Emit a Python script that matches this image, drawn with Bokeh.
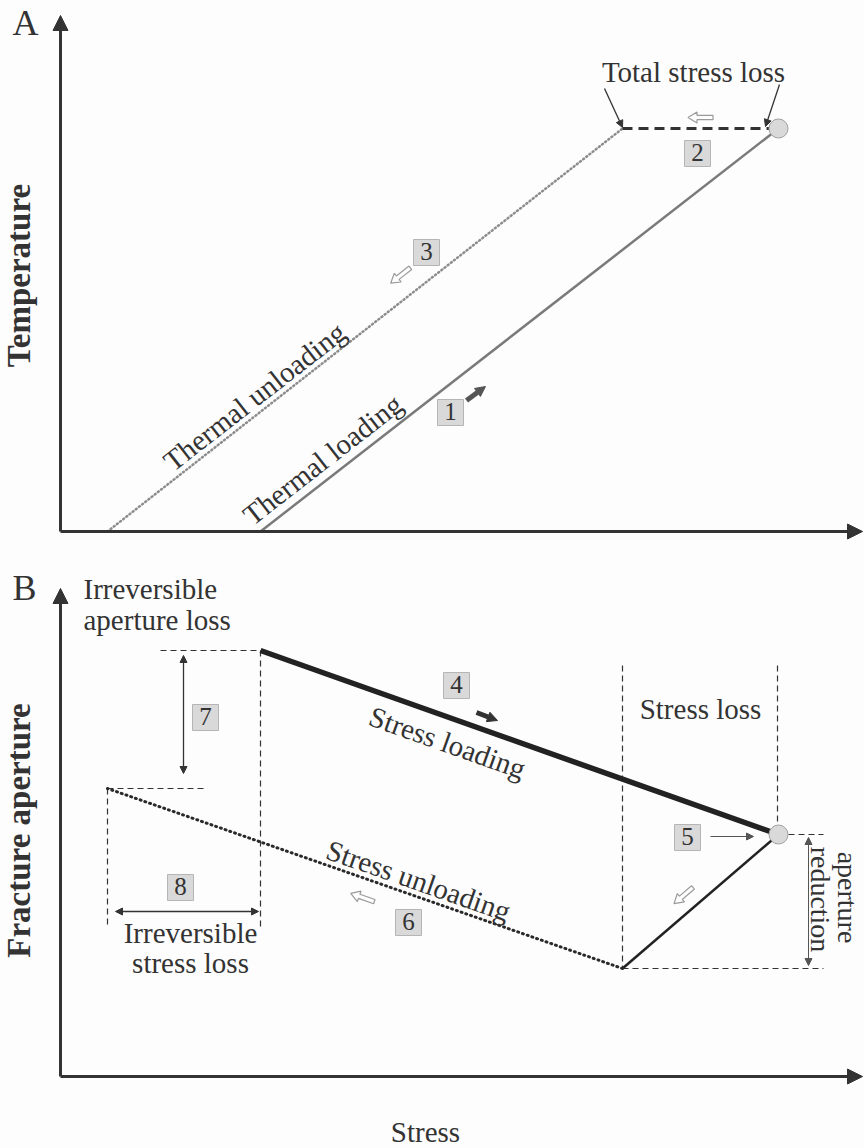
import math
from bokeh.plotting import figure
from bokeh.models import Range1d, Arrow, NormalHead, ColumnDataSource
from bokeh.layouts import column
from bokeh.core.properties import value
from bokeh.embed import file_html
from bokeh.resources import INLINE

# ---------------- data (arbitrary schematic units) ----------------
# Panel A: stress vs temperature
A_LOAD_STRESS = [200, 718]
A_LOAD_TEMP = [0, 403]
A_UNLOAD_STRESS = [47, 562]
A_UNLOAD_TEMP = [0, 403]
A_LOSS_STRESS = [562, 709]
A_LOSS_TEMP = [403, 403]
A_PEAK_STRESS = [718]
A_PEAK_TEMP = [403]

# Panel B: stress vs fracture aperture
B_LOAD_STRESS = [200, 718]
B_LOAD_APERT = [426, 242]
B_RELEASE_STRESS = [718, 562]
B_RELEASE_APERT = [242, 108]
B_UNLOAD_STRESS = [562, 47]
B_UNLOAD_APERT = [108, 288]
B_PEAK_STRESS = [718]
B_PEAK_APERT = [242]

SERIF = value("Liberation Serif")
INK = "#333333"
BG = "#fdfdfd"
BOXF = "#d9d9d9"
BOXL = "#b5b5b5"
FS = "29px"


def make_fig(h, y0, y1):
    p = figure(width=864, height=h, x_range=Range1d(-60, 804), y_range=Range1d(y0, y1),
               output_backend="svg", toolbar_location=None, x_axis_type=None, y_axis_type=None,
               min_border=0, background_fill_color=BG, border_fill_color=BG,
               outline_line_color=None)
    return p


def arrows(p, x0, y0, x1, y1, width, color, size, both=False):
    src = ColumnDataSource(dict(x0=x0, y0=y0, x1=x1, y1=y1))
    end = NormalHead(size=size, fill_color=color, line_color=color, line_width=1)
    start = NormalHead(size=size, fill_color=color, line_color=color, line_width=1) if both else None
    p.add_layout(Arrow(x_start="x0", y_start="y0", x_end="x1", y_end="y1", source=src,
                       start=start, end=end, line_color=color, line_width=width))


def txt(p, x, y, s, size=FS, angle=0.0, align="center", color=INK, style="normal"):
    p.text(x=[x], y=[y], text=[s], angle=angle, text_font=SERIF, text_font_size=size,
           text_align=align, text_baseline="middle", text_color=color, text_font_style=style)


def box(p, x, y, s):
    p.rect(x=[x], y=[y], width=26, height=26, fill_color=BOXF, line_color=BOXL, line_width=1)
    txt(p, x, y + 1, s, size="25px")


def hollow(p, cx, cy, ang, L=25.0, sw=2.2, hw=5.5, hl=9.0):
    shape = [(-L / 2, -sw), (L / 2 - hl, -sw), (L / 2 - hl, -hw), (L / 2, 0),
             (L / 2 - hl, hw), (L / 2 - hl, sw), (-L / 2, sw)]
    c, s = math.cos(ang), math.sin(ang)
    xs = [cx + u * c - v * s for u, v in shape]
    ys = [cy + u * s + v * c for u, v in shape]
    p.patch(xs, ys, fill_color=BG, line_color="#9a9a9a", line_width=1.2)


# ---------------- Panel A ----------------
pa = make_fig(560, -29, 531)
arrows(pa, [0, 0], [0, 0], [0, 802], [516, 0], 3, INK, 15)

pa.line(A_LOAD_STRESS, A_LOAD_TEMP, line_color="#7a7a7a", line_width=2.5)
pa.line(A_UNLOAD_STRESS, A_UNLOAD_TEMP, line_color="#8c8c8c", line_width=2.5,
        line_dash="1 3", line_cap="round")
pa.line(A_LOSS_STRESS, A_LOSS_TEMP, line_color=INK, line_width=3, line_dash="10 6")
pa.scatter(A_PEAK_STRESS, A_PEAK_TEMP, size=19, fill_color=BOXF, line_color="#a0a0a0")

ang_a = math.atan2(A_LOAD_TEMP[1] - A_LOAD_TEMP[0], A_LOAD_STRESS[1] - A_LOAD_STRESS[0])
txt(pa, -35, 509, "A", size="36px")
txt(pa, -42, 256, "Temperature", size="33px", angle=math.pi / 2, style="bold")
txt(pa, 633, 460, "Total stress loss")
arrows(pa, [544, 719], [443, 447], [562, 705], [404, 405], 1.3, INK, 7)
box(pa, 637, 378, "2")
box(pa, 366, 279, "3")
box(pa, 390, 119, "1")
arrows(pa, [406], [131], [425], [145], 5, "#555555", 10)
hollow(pa, 640, 414, math.pi)
hollow(pa, 340, 256, ang_a + math.pi)
txt(pa, 194, 135, "Thermal unloading", angle=ang_a)
txt(pa, 262, 72, "Thermal loading", angle=ang_a)

# ---------------- Panel B ----------------
pb = make_fig(588, -72, 516)
arrows(pb, [0, 0], [0, 0], [0, 802], [488, 0], 3, INK, 15)

guide = dict(line_color=INK, line_width=1.2, line_dash="6 4")
pb.line([100, 200], [426, 426], **guide)
pb.line([200, 200], [426, 149], **guide)
pb.line([47, 145], [288, 288], **guide)
pb.line([47, 47], [288, 149], **guide)
pb.line([562, 562], [411, 108], **guide)
pb.line([717, 717], [411, 251], **guide)
pb.line([728, 763], [242, 242], **guide)
pb.line([562, 763], [108, 108], **guide)

pb.line(B_LOAD_STRESS, B_LOAD_APERT, line_color="#222222", line_width=5.5)
pb.line(B_RELEASE_STRESS, B_RELEASE_APERT, line_color="#222222", line_width=2.5)
pb.line(B_UNLOAD_STRESS, B_UNLOAD_APERT, line_color="#2a2a2a", line_width=3,
        line_dash="1 4", line_cap="round")
pb.scatter(B_PEAK_STRESS, B_PEAK_APERT, size=19, fill_color=BOXF, line_color="#a0a0a0")

ang_load = math.atan2(B_LOAD_APERT[1] - B_LOAD_APERT[0], B_LOAD_STRESS[1] - B_LOAD_STRESS[0])
ang_unl = math.atan2(B_UNLOAD_APERT[1] - B_UNLOAD_APERT[0], B_UNLOAD_STRESS[1] - B_UNLOAD_STRESS[0])
ang_rel = math.atan2(B_RELEASE_APERT[1] - B_RELEASE_APERT[0], B_RELEASE_STRESS[1] - B_RELEASE_STRESS[0])

txt(pb, -36, 489, "B", size="36px")
txt(pb, -42, 246, "Fracture aperture", size="33px", angle=math.pi / 2, style="bold")
txt(pb, 365, -55, "Stress")
txt(pb, 23, 488, "Irreversible", align="left")
txt(pb, 23, 457, "aperture loss", align="left")
txt(pb, 130, 144, "Irreversible")
txt(pb, 130, 114, "stress loss")
txt(pb, 640, 368, "Stress loss")
txt(pb, 387, 334, "Stress loading", angle=ang_load)
txt(pb, 358, 196, "Stress unloading", angle=ang_unl - math.pi)
txt(pb, 787, 179, "aperture", size="28px", angle=-math.pi / 2)
txt(pb, 760, 177, "reduction", size="28px", angle=-math.pi / 2)

arrows(pb, [123], [421], [123], [303], 1.3, INK, 7, both=True)
arrows(pb, [55], [165], [198], [165], 1.3, INK, 7, both=True)
arrows(pb, [748], [239], [748], [111], 1.0, "#555555", 7, both=True)
arrows(pb, [650], [240], [693], [240], 1.0, "#555555", 7)
arrows(pb, [416], [364], [437], [356], 5, INK, 10)

box(pb, 145, 359, "7")
box(pb, 120, 189, "8")
box(pb, 396, 391, "4")
box(pb, 627, 239, "5")
box(pb, 348, 154, "6")
hollow(pb, 623, 181, ang_rel)
hollow(pb, 302, 179, ang_unl)

layout = column(pa, pb, spacing=0)
open("out.html", "w").write(file_html(layout, INLINE))
